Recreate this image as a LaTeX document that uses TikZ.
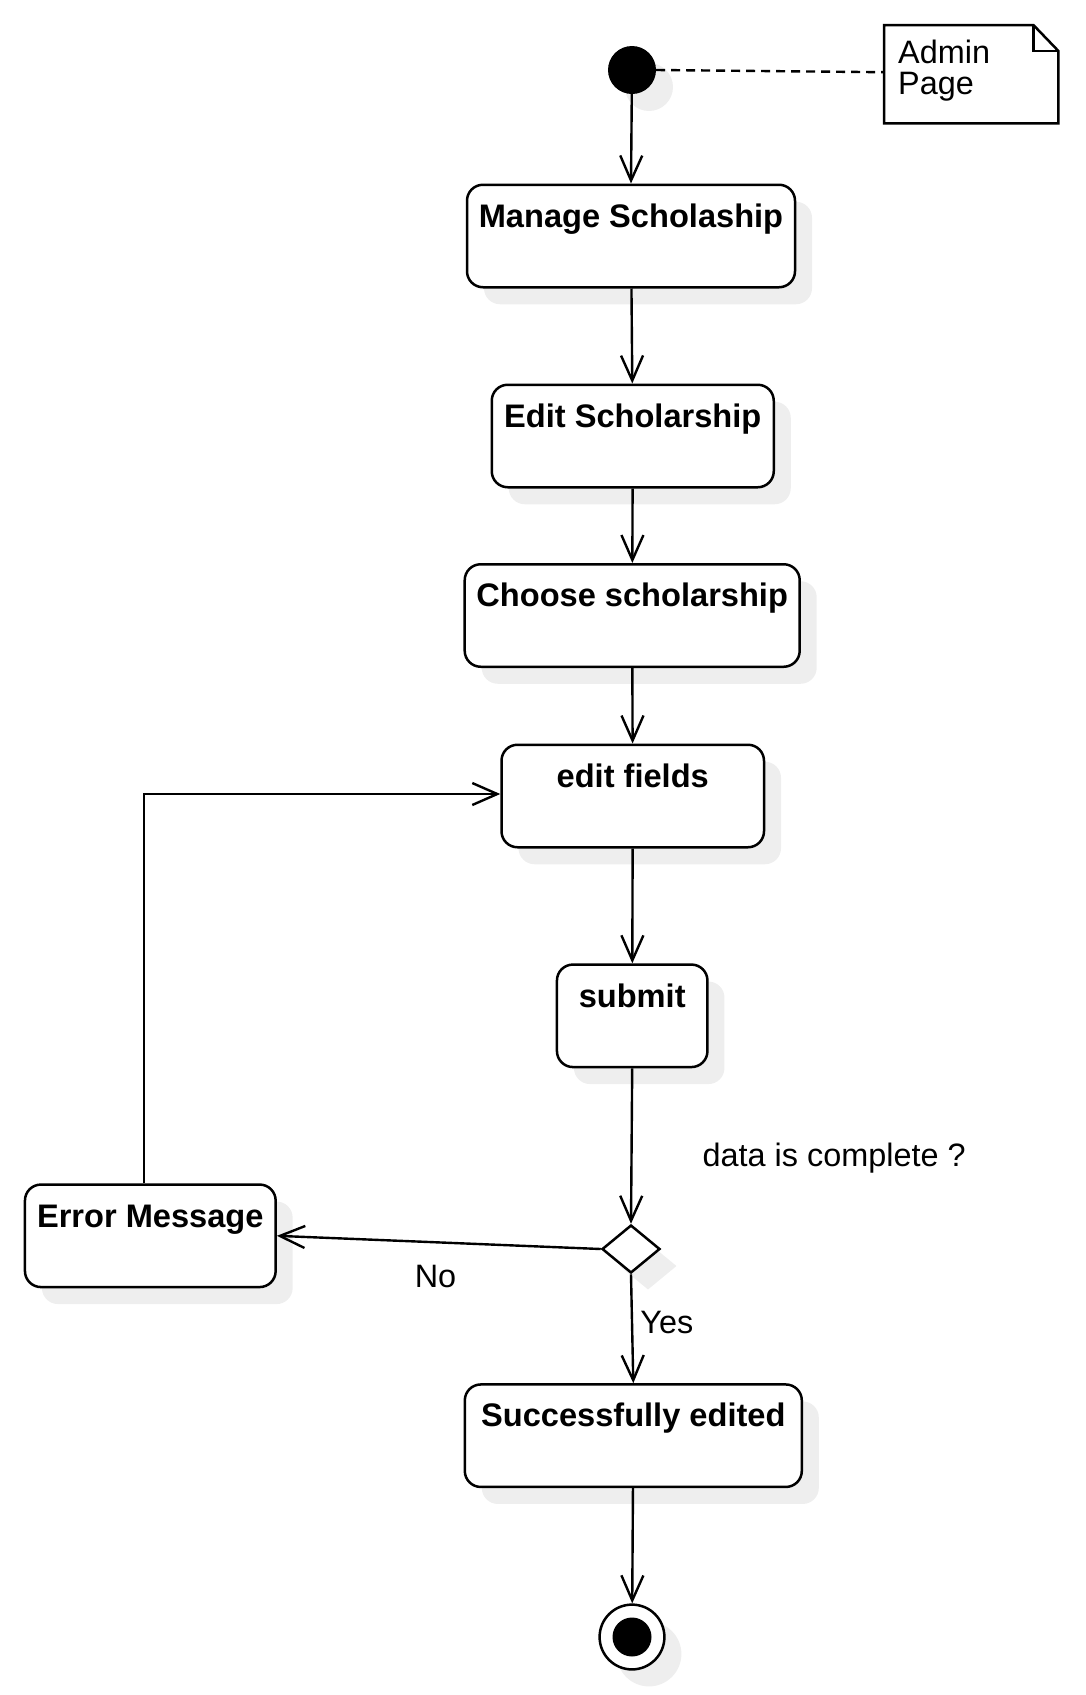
\documentclass[tikz,border=0pt]{standalone}
\usepackage{fontspec}
\setmainfont{Liberation Sans}
\usetikzlibrary{arrows.meta,shapes.geometric}
\definecolor{shadowgray}{RGB}{238,238,238}
\tikzset{
  shadowed/.style={preaction={fill=shadowgray, draw=none, transform canvas={xshift=17pt,yshift=-17pt}}},
  action/.style={shadowed, draw, line width=2.5pt, fill=white, rounded corners=16pt,
    inner xsep=0pt, inner ysep=0pt, text height=42.5pt, text depth=60pt,
    font=\fontsize{32.6pt}{36pt}\selectfont\bfseries},
  flow/.style={draw, line width=2.4pt, -{Straight Barb[length=25pt,width=22pt]}},
  lbl/.style={inner sep=0pt, font=\fontsize{32.4pt}{36pt}\selectfont},
}
\begin{document}
\begin{tikzpicture}[x=1pt,y=-1pt]
\useasboundingbox (0,0) rectangle (1085,1695);

% initial state
\node[shadowed, circle, fill=black, minimum size=48pt, inner sep=0pt] (init) at (632,70) {};

% note
\node[minimum width=174pt, minimum height=98pt, inner sep=0pt, anchor=north west] (note) at (884,25) {};
\draw[line width=2.5pt, fill=white] (note.north west) -- ([xshift=-25pt]note.north east)
  -- ([yshift=-26pt]note.north east) -- (note.south east) -- (note.south west) -- cycle;
\draw[line width=2.5pt] ([xshift=-25pt]note.north east) |- ([yshift=-26pt]note.north east);
\node[inner sep=0pt, anchor=north west, align=left, font=\fontsize{32.4pt}{31pt}\selectfont] (notetext) at (898,39.5) {Admin\\Page};

% actions
\node[action, minimum width=328pt] (manage) at (631,236) {Manage Scholaship};
\node[action, minimum width=282pt] (edit) at (632.75,436) {Edit Scholarship};
\node[action, minimum width=335pt] (choose) at (632.2,615.5) {Choose scholarship};
\node[action, minimum width=262.5pt] (fields) at (632.75,796) {edit fields};
\node[action, minimum width=150.5pt] (submit) at (632.2,1015.8) {submit};
\node[shadowed, draw, diamond, line width=2.5pt, fill=white, minimum width=58pt, minimum height=48pt, inner sep=0pt] (dec) at (631,1249) {};
\node[action, minimum width=250.7pt] (err) at (150.3,1235.8) {Error Message};
\node[action, minimum width=337pt] (succ) at (633.3,1435.7) {Successfully edited};
\node[shadowed, circle, draw, line width=2.5pt, fill=white, minimum size=64.8pt, inner sep=0pt,
  path picture={\fill[black] (path picture bounding box.center) circle (19.5pt);}] (final) at (632,1637) {};

% connectors
\draw[line width=2.4pt, dash pattern=on 9pt off 6pt] (init.east) -- ([yshift=2pt]note.west);
\draw[flow] (init) -- (manage.north);
\draw[flow] (manage) -- (edit);
\draw[flow] (edit) -- (choose);
\draw[flow] (choose) -- (fields);
\draw[flow] (fields) -- (submit);
\draw[flow] (submit.south) -- (dec.north);
\draw[flow] (dec.west) -- (err.east);
\draw[flow] (dec.south) -- (succ.north);
\draw[flow] (succ) -- (final);
\draw[flow] ([xshift=-6.6pt]err.north) |- ([yshift=2pt]fields.west);

% labels
\node[lbl, anchor=west] (q) at (702.5,1158.5) {data is complete ?};
\node[lbl] (no) at (435.5,1276.3) {No};
\node[lbl] (yes) at (666.8,1322.8) {Yes};
\end{tikzpicture}
\end{document}
